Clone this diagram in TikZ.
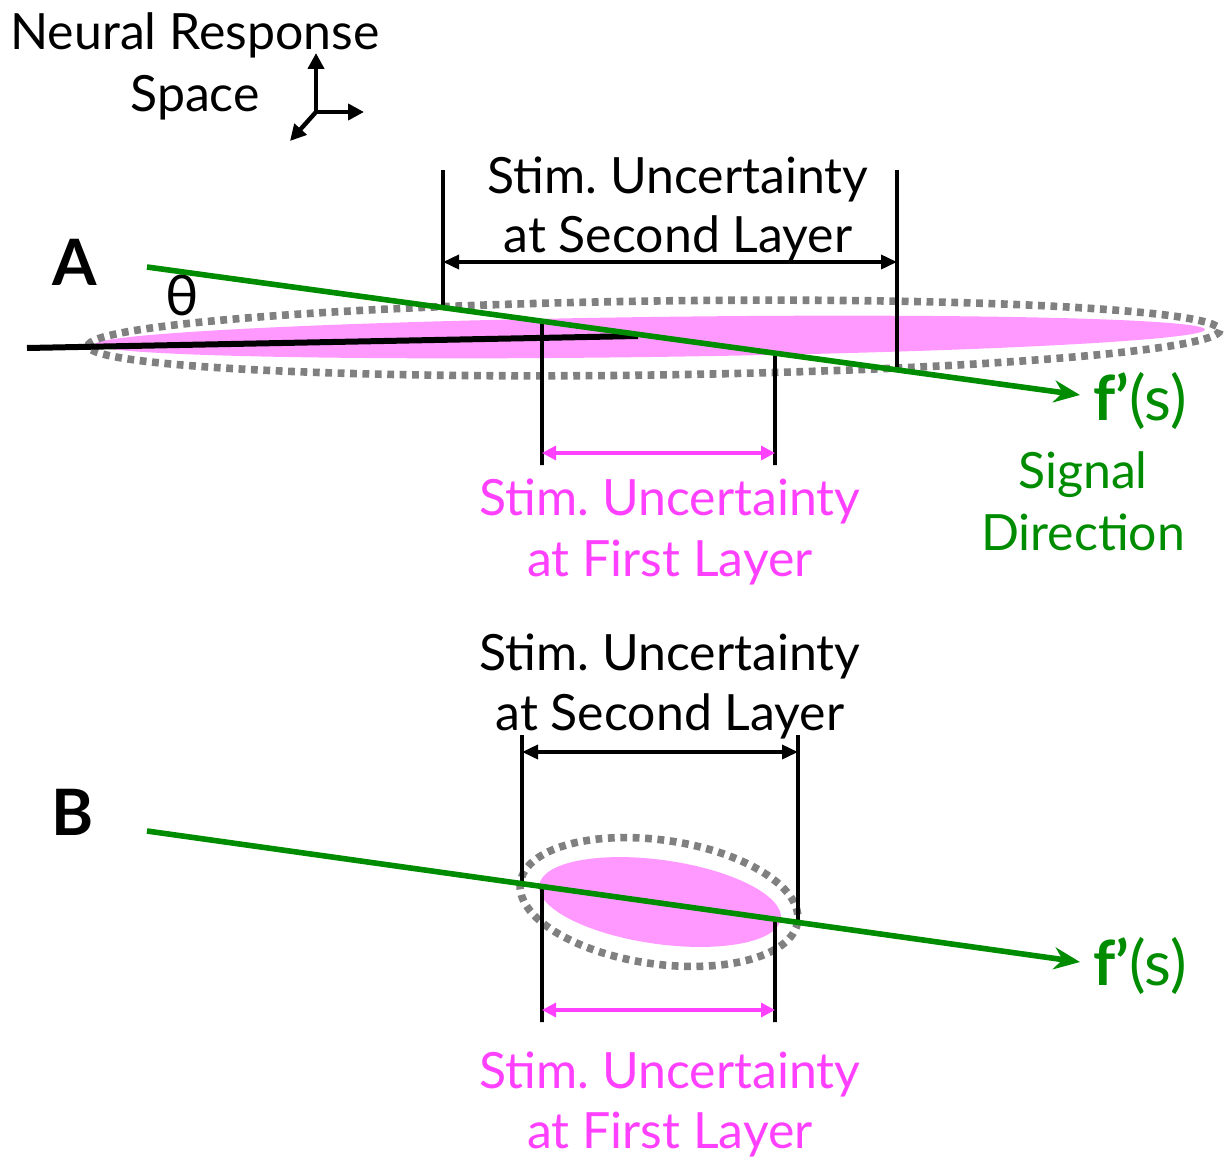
\documentclass[tikz,border=0pt]{standalone}
\usepackage{fontspec}
\setmainfont{Lato}
\usetikzlibrary{arrows.meta,calc}
\definecolor{sgreen}{RGB}{0,140,0}
\definecolor{spink}{RGB}{255,153,255}
\definecolor{smag}{RGB}{255,64,255}
\definecolor{sgray}{RGB}{128,128,128}
\frenchspacing
\begin{document}
\begin{tikzpicture}[x=0.5pt,y=-0.5pt,
  lbl/.style={anchor=base, inner sep=0pt, font=\fontsize{25}{30}\selectfont},
  panel/.style={anchor=base, inner sep=0pt, font=\fontsize{32}{36}\selectfont\bfseries},
  fs/.style={anchor=base, inner sep=0pt, text=sgreen, font=\fontsize{31}{36}\selectfont},
  sig/.style={line width=2.8pt, draw=sgreen, -{Stealth[length=13pt,width=11pt]}},
  tick/.style={line width=1.8pt, draw=black},
  dimblack/.style={line width=1.8pt, {Triangle[length=8pt,width=7pt]}-{Triangle[length=8pt,width=7pt]}},
  dimpink/.style={line width=1.6pt, draw=smag, {Triangle[length=7pt,width=7pt]}-{Triangle[length=7pt,width=7pt]}},
  dots/.style={draw=sgray, line width=3.8pt, dash pattern=on 3.4pt off 2.8pt},
  ax/.style={line width=2.2pt, -{Triangle[length=8pt,width=8pt]}}
]
\useasboundingbox (0,0) rectangle (1230,1156);

% ---------- header ----------
\node[lbl] (nr1) at (195,50) {Neural Response};
\node[lbl] (nr2) at (195,112) {Space};
\coordinate (o) at (316,112);
\coordinate (oup) at (316,53);
\coordinate (ort) at (364,112);
\coordinate (odl) at (290,141);
\draw[ax] (o) -- (oup);
\draw[ax] (o) -- (ort);
\draw[ax] (o) -- (odl);

% ---------- panel A ----------
\node[panel] (pA) at (75,285) {A};
\fill[spink, rotate around={0.77:(650,337)}] (650,337) ellipse [x radius=555, y radius=20];
\draw[dots, rotate around={0.8:(654,338)}] (654,338) ellipse [x radius=566, y radius=37];
\coordinate (bl1) at (27,348);
\coordinate (bl2) at (638,336);
\draw[line width=3pt] (bl1) -- (bl2);
\node[anchor=base, inner sep=0pt, font=\fontsize{28}{30}\selectfont] (thA) at (182,315) {θ};

\coordinate (gA1) at (147,267);
\coordinate (gA2) at (1080,395);
\coordinate (tA1) at (443,170);
\coordinate (tA1b) at ($(gA1)!{(443-147)/933}!(gA2)$);
\coordinate (tA2) at (897,170);
\coordinate (tA2b) at ($(gA1)!{(897-147)/933}!(gA2)$);
\coordinate (fA1) at ($(gA1)!{(542-147)/933}!(gA2)$);
\coordinate (fA1b) at (542,465);
\coordinate (fA2) at ($(gA1)!{(775-147)/933}!(gA2)$);
\coordinate (fA2b) at (775,465);
\draw[tick] (tA1) -- (tA1b);
\draw[tick] (tA2) -- (tA2b);
\draw[tick] (fA1) -- (fA1b);
\draw[tick] (fA2) -- (fA2b);
\draw[dimblack] (443,262) coordinate (dA1) -- (897,262) coordinate (dA2);
\draw[dimpink] (542,453) coordinate (pA1) -- (775,453) coordinate (pA2);
\draw[sig] (gA1) -- (gA2);

\node[lbl] (sA1) at (678,193) {Stim. Uncertainty};
\node[lbl] (sA2) at (678,252) {at Second Layer};
\node[lbl, text=smag] (fA1t) at (670,515) {Stim. Uncertainty};
\node[lbl, text=smag] (fA2t) at (670,576) {at First Layer};
\node[fs] (fsA) at (1140,420) {\textbf{f’}(s)};
\node[lbl, text=sgreen] (sig1) at (1083,488) {Signal};
\node[lbl, text=sgreen] (sig2) at (1083,550) {Direction};

% ---------- panel B ----------
\node[panel] (pB) at (73,835) {B};
\fill[spink, rotate around={-8:(660,902)}] (660,902) ellipse [x radius=122, y radius=42];
\draw[dots, rotate around={-8:(659,902)}] (659,902) ellipse [x radius=140, y radius=62];

\coordinate (gB1) at (147,831);
\coordinate (gB2) at (1080,962);
\coordinate (tB1) at (522,735);
\coordinate (tB1b) at ($(gB1)!{(522-147)/933}!(gB2)$);
\coordinate (tB2) at (798,735);
\coordinate (tB2b) at ($(gB1)!{(798-147)/933}!(gB2)$);
\coordinate (fB1) at ($(gB1)!{(542-147)/933}!(gB2)$);
\coordinate (fB1b) at (542,1022);
\coordinate (fB2) at ($(gB1)!{(775-147)/933}!(gB2)$);
\coordinate (fB2b) at (775,1022);
\draw[tick] (tB1) -- (tB1b);
\draw[tick] (tB2) -- (tB2b);
\draw[tick] (fB1) -- (fB1b);
\draw[tick] (fB2) -- (fB2b);
\draw[dimblack] (522,752) coordinate (dB1) -- (798,752) coordinate (dB2);
\draw[dimpink] (542,1010) coordinate (pB1) -- (775,1010) coordinate (pB2);
\draw[sig] (gB1) -- (gB2);

\node[lbl] (sB1) at (670,670) {Stim. Uncertainty};
\node[lbl] (sB2) at (670,730) {at Second Layer};
\node[lbl, text=smag] (fB1t) at (670,1088) {Stim. Uncertainty};
\node[lbl, text=smag] (fB2t) at (670,1148) {at First Layer};
\node[fs] (fsB) at (1140,985) {\textbf{f’}(s)};
\end{tikzpicture}
\end{document}
